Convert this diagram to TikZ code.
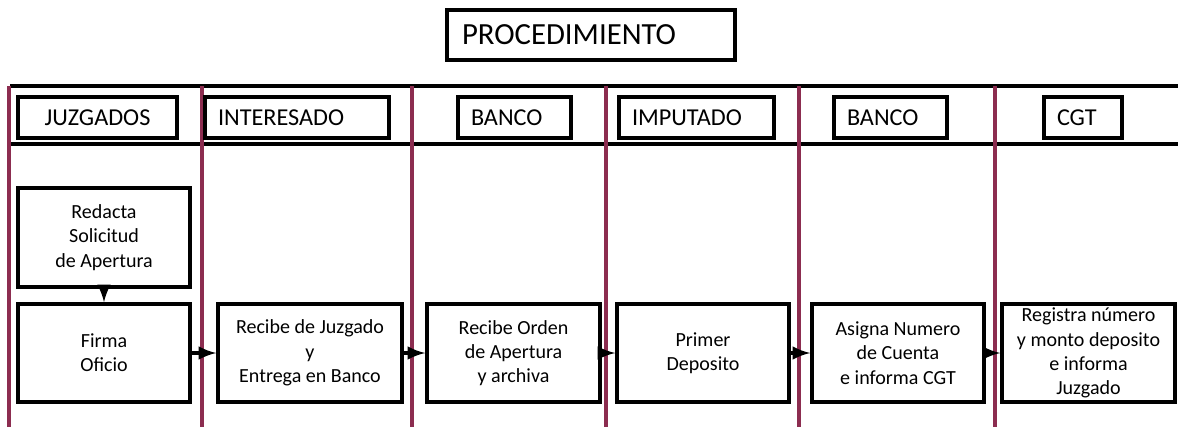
\documentclass[tikz,border=0pt]{standalone}
\usepackage{fontspec}
\setmainfont{Carlito}
\usetikzlibrary{arrows}
\definecolor{lanecolor}{RGB}{140,45,80}
\tikzset{box/.style={draw, line width=2pt, minimum height=1.96cm, align=center,
  inner sep=0pt, font=\fontsize{11.4}{13.8}\selectfont}}
\tikzset{hdr/.style={draw, line width=2pt, minimum height=0.82cm, text width=#1,
  align=left, inner xsep=0.26cm, inner ysep=0pt, font=\fontsize{13.8}{15}\selectfont}}
\tikzset{flow/.style={line width=2.4pt, -latex}}
\begin{document}
\begin{tikzpicture}[x=0.02cm, y=-0.02cm]
      \useasboundingbox (0, 0) rectangle (1178, 427);

      \node [hdr=5.16cm, inner xsep=0.3cm, minimum height=1cm, font=\fontsize{17.5}{19}\selectfont] (proc) at (591, 35) {PROCEDIMIENTO};

      \draw [line width=2pt] (10, 86) -- (1178, 86);
      \draw [line width=2pt] (10, 144) -- (1178, 144);
      \foreach \x in {9, 202, 412, 606, 799, 995}
        \draw [lanecolor, line width=2pt] (\x, 86) -- (\x, 427);

      \node [hdr=2.66cm, align=center] (juz) at (97.5, 117.5) {JUZGADOS};
      \node [hdr=3.16cm] (inter) at (297, 117.5) {INTERESADO};
      \node [hdr=1.74cm] (banco) at (514.5, 117.5) {BANCO};
      \node [hdr=2.58cm] (imput) at (696.5, 117.5) {IMPUTADO};
      \node [hdr=1.74cm] (bancob) at (890.5, 117.5) {BANCO};
      \node [hdr=1.04cm] (cgt) at (1083, 117.5) {CGT};

      \node [box, minimum width=3.44cm, minimum height=1.98cm] (redacta) at (104, 237.5) {Redacta\\Solicitud\\de Apertura};
      \node [box, minimum width=3.44cm] (firma) at (104, 353) {Firma\\Oficio};
      \node [box, minimum width=3.68cm] (recjuz) at (310, 353) {Recibe de Juzgado\\y\\Entrega en Banco};
      \node [box, minimum width=3.46cm] (recorden) at (513.5, 353) {Recibe Orden\\de Apertura\\y archiva};
      \node [box, minimum width=3.44cm] (deposito) at (703, 353) {Primer\\Deposito};
      \node [box, minimum width=3.44cm] (asigna) at (898, 353) {Asigna Numero\\de Cuenta\\e informa CGT};
      \node [box, minimum width=3.46cm] (registra) at (1088.5, 353) {Registra número\\y monto deposito\\e informa\\Juzgado};

      \draw [flow] (redacta) -- (firma);
      \draw [flow] (firma) -- (recjuz);
      \draw [flow] (recjuz) -- (recorden);
      \draw [flow] (recorden) -- (deposito);
      \draw [flow] (deposito) -- (asigna);
      \draw [flow] (asigna) -- (registra);
\end{tikzpicture}
\end{document}
